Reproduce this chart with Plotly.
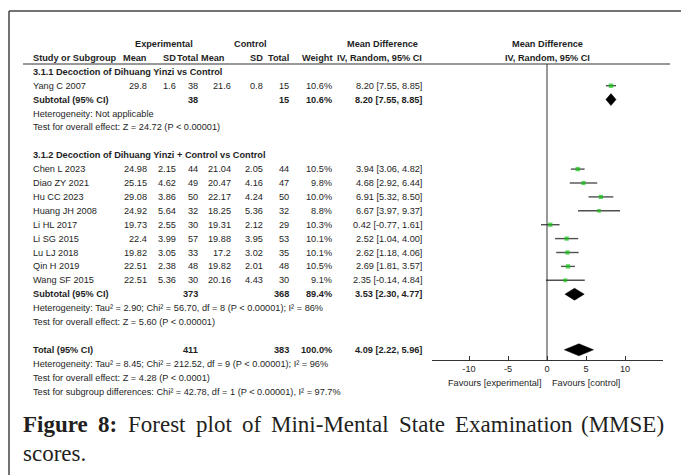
import plotly.graph_objects as go

# ---------------- data ----------------
g1_studies = ["Yang C 2007"]
g1_exp_mean = [29.8]; g1_exp_sd = [1.6]; g1_exp_n = [38]
g1_ctl_mean = [21.6]; g1_ctl_sd = [0.8]; g1_ctl_n = [15]
g1_weight = [10.6]; g1_md = [8.20]; g1_lo = [7.55]; g1_hi = [8.85]

g2_studies = ["Chen L 2023", "Diao ZY 2021", "Hu CC 2023", "Huang JH 2008", "Li HL 2017",
              "Li SG 2015", "Lu LJ 2018", "Qin H 2019", "Wang SF 2015"]
g2_exp_mean = [24.98, 25.15, 29.08, 24.92, 19.73, 22.4, 19.82, 22.51, 22.51]
g2_exp_sd = [2.15, 4.62, 3.86, 5.64, 2.55, 3.99, 3.05, 2.38, 5.36]
g2_exp_n = [44, 49, 50, 32, 30, 57, 33, 48, 30]
g2_ctl_mean = [21.04, 20.47, 22.17, 18.25, 19.31, 19.88, 17.2, 19.82, 20.16]
g2_ctl_sd = [2.05, 4.16, 4.24, 5.36, 2.12, 3.95, 3.02, 2.01, 4.43]
g2_ctl_n = [44, 47, 50, 32, 29, 53, 35, 48, 30]
g2_weight = [10.5, 9.8, 10.0, 8.8, 10.3, 10.1, 10.1, 10.5, 9.1]
g2_md = [3.94, 4.68, 6.91, 6.67, 0.42, 2.52, 2.62, 2.69, 2.35]
g2_lo = [3.06, 2.92, 5.32, 3.97, -0.77, 1.04, 1.18, 1.81, -0.14]
g2_hi = [4.82, 6.44, 8.50, 9.37, 1.61, 4.00, 4.06, 3.57, 4.84]

# pooled rows: label, exp_n, ctl_n, weight, md, lo, hi
pooled_labels = ["Subtotal (95% CI)", "Subtotal (95% CI)", "Total (95% CI)"]
pooled_exp_n = [38, 373, 411]
pooled_ctl_n = [15, 368, 383]
pooled_weight = [10.6, 89.4, 100.0]
pooled_md = [8.20, 3.53, 4.09]
pooled_lo = [7.55, 2.30, 2.22]
pooled_hi = [8.85, 4.77, 5.96]

group_titles = ["3.1.1 Decoction of Dihuang Yinzi vs Control",
                "3.1.2 Decoction of Dihuang Yinzi + Control vs Control"]
g1_notes = ["Heterogeneity: Not applicable",
            "Test for overall effect: Z = 24.72 (P < 0.00001)"]
g2_notes = ["Heterogeneity: Tau² = 2.90; Chi² = 56.70, df = 8 (P < 0.00001); I² = 86%",
            "Test for overall effect: Z = 5.60 (P < 0.00001)"]
total_notes = ["Heterogeneity: Tau² = 8.45; Chi² = 212.52, df = 9 (P < 0.00001); I² = 96%",
               "Test for overall effect: Z = 4.28 (P < 0.0001)",
               "Test for subgroup differences: Chi² = 42.78, df = 1 (P < 0.00001), I² = 97.7%"]

axis_ticks = [-10, -5, 0, 5, 10]
favours_left = "Favours [experimental]"
favours_right = "Favours [control]"
caption_words = ["Figure", "8:", "Forest", "plot", "of", "Mini-Mental", "State",
                 "Examination", "(MMSE)"]
caption_line2 = "scores."

# ---------------- layout helpers ----------------
W, H = 681, 475
ROW0, ROWH = 44.0, 13.9       # pixel y of row 0 and row spacing
X0PX, UNIT = 547.0, 7.8       # pixel x of MD = 0, pixels per unit
AX_L, AX_R, AX_Y = 432, 663, 360

FONT = "Liberation Sans, Arial, sans-serif"
FS = 9.2
TXT = "#1e1e1e"

def px(x):
    return x / W

def py(y):
    return 1 - y / H

annos = []

def txt(s, xpx, row, anchor="right", bold=False, size=FS, color=TXT, font=FONT):
    if bold:
        s = "<b>" + s + "</b>"
    annos.append(dict(text=s, x=px(xpx), y=row, xref="paper", yref="y",
                      xanchor=anchor, yanchor="middle", showarrow=False,
                      borderpad=0, font=dict(family=font, size=size, color=color)))

# column right edges
C_EM, C_ESD, C_EN, C_CM, C_CSD, C_CN, C_W, C_CI = 148, 177, 199, 232, 264, 290, 333, 423
C_NAME = 32

# headers
txt("Experimental", 164, 0, "center", True)
txt("Control", 250, 0, "center", True)
txt("Mean Difference", 382, 0, "center", True)
txt("Mean Difference", X0PX, 0, "center", True)
txt("Study or Subgroup", C_NAME, 1, "left", True)
for s, c in [("Mean", C_EM), ("SD", C_ESD), ("Total", C_EN), ("Mean", C_CM - 6),
             ("SD", C_CSD), ("Total", C_CN), ("Weight", C_W), ("IV, Random, 95% CI", C_CI)]:
    txt(s, c, 1, "right", True)
txt("IV, Random, 95% CI", X0PX, 1, "center", True)

def fmt(v):
    return f"{v:g}"

def ci(m, l, h):
    return f"{m:.2f} [{l:.2f}, {h:.2f}]"

def study_rows(names, em, esd, en, cm, csd, cn, w, md, lo, hi, start):
    rows = []
    for i, n in enumerate(names):
        r = start + i
        rows.append(r)
        txt(n, C_NAME, r, "left")
        txt(fmt(em[i]), C_EM, r); txt(fmt(esd[i]), C_ESD, r); txt(str(en[i]), C_EN, r)
        txt(fmt(cm[i]), C_CM, r); txt(fmt(csd[i]), C_CSD, r); txt(str(cn[i]), C_CN, r)
        txt(f"{w[i]:.1f}%", C_W, r)
        txt(ci(md[i], lo[i], hi[i]), C_CI, r)
    return rows

def pooled_row(k, r):
    txt(pooled_labels[k], C_NAME, r, "left", True)
    txt(str(pooled_exp_n[k]), C_EN, r, "right", True)
    txt(str(pooled_ctl_n[k]), C_CN, r, "right", True)
    txt(f"{pooled_weight[k]:.1f}%", C_W, r, "right", True)
    txt(ci(pooled_md[k], pooled_lo[k], pooled_hi[k]), C_CI, r, "right", True)

# group 1
txt(group_titles[0], C_NAME, 2, "left", True)
rows1 = study_rows(g1_studies, g1_exp_mean, g1_exp_sd, g1_exp_n, g1_ctl_mean, g1_ctl_sd,
                   g1_ctl_n, g1_weight, g1_md, g1_lo, g1_hi, 3)
pooled_row(0, 4)
txt(g1_notes[0], C_NAME, 5, "left")
txt(g1_notes[1], C_NAME, 6, "left")

# group 2
txt(group_titles[1], C_NAME, 8, "left", True)
rows2 = study_rows(g2_studies, g2_exp_mean, g2_exp_sd, g2_exp_n, g2_ctl_mean, g2_ctl_sd,
                   g2_ctl_n, g2_weight, g2_md, g2_lo, g2_hi, 9)
pooled_row(1, 18)
txt(g2_notes[0], C_NAME, 19, "left")
txt(g2_notes[1], C_NAME, 20, "left")

# total
pooled_row(2, 22)
for i, s in enumerate(total_notes):
    txt(s, C_NAME, 23 + i, "left")

# favours labels
fav_row = (383 - ROW0) / ROWH
annos.append(dict(text=favours_left, x=-0.7, y=fav_row, xref="x", yref="y",
                  xanchor="right", yanchor="middle", showarrow=False, borderpad=0,
                  font=dict(family=FONT, size=FS, color=TXT)))
annos.append(dict(text=favours_right, x=0.5, y=fav_row, xref="x", yref="y",
                  xanchor="left", yanchor="middle", showarrow=False, borderpad=0,
                  font=dict(family=FONT, size=FS, color=TXT)))

# caption (justified line 1: word widths from Times metrics)
SERIF = "Liberation Serif, Times New Roman, serif"
CFS = 23
CAP_COL = "#231f20"
times_w = {"Figure": 2.833, "8:": 0.833, "Forest": 2.500, "plot": 1.556, "of": 0.833,
           "Mini-Mental": 5.111, "State": 2.000, "Examination": 5.111, "(MMSE)": 3.611}
CAP_L, CAP_R = 22, 665
widths = [times_w[w_] * CFS for w_ in caption_words]
gap = (CAP_R - CAP_L - sum(widths)) / (len(caption_words) - 1)
xcur = CAP_L
for i, (word, wd) in enumerate(zip(caption_words, widths)):
    t = "<b>" + word + "</b>" if i < 2 else word
    last = i == len(caption_words) - 1
    annos.append(dict(text=t, x=px(CAP_R if last else xcur), y=py(424),
                      xref="paper", yref="paper", xanchor="right" if last else "left",
                      yanchor="middle", showarrow=False, borderpad=0,
                      font=dict(family=SERIF, size=CFS, color=CAP_COL)))
    xcur += wd + gap
annos.append(dict(text=caption_line2, x=px(CAP_L), y=py(453),
                  xref="paper", yref="paper", xanchor="left", yanchor="middle",
                  showarrow=False, borderpad=0,
                  font=dict(family=SERIF, size=CFS, color=CAP_COL)))

# ---------------- traces ----------------
fig = go.Figure()

all_rows = rows1 + rows2
all_md = g1_md + g2_md
all_lo = g1_lo + g2_lo
all_hi = g1_hi + g2_hi
all_w = g1_weight + g2_weight
fig.add_trace(go.Scatter(
    x=all_md, y=all_rows, mode="markers",
    marker=dict(symbol="square", size=[w / 2.4 for w in all_w], color="#12c412",
                line=dict(width=0)),
    error_x=dict(type="data", symmetric=False,
                 array=[h - m for h, m in zip(all_hi, all_md)],
                 arrayminus=[m - l for m, l in zip(all_md, all_lo)],
                 color="#505050", thickness=1.4, width=0),
    hoverinfo="skip", showlegend=False))

half = 0.43
for k, r in zip(range(3), [4, 18, 22]):
    m, l, h = pooled_md[k], pooled_lo[k], pooled_hi[k]
    fig.add_trace(go.Scatter(
        x=[l, m, h, m, l], y=[r, r - half, r, r + half, r],
        mode="lines", fill="toself", fillcolor="black",
        line=dict(color="black", width=0.5), hoverinfo="skip", showlegend=False))

shapes = [
    # frame
    dict(type="line", xref="paper", yref="paper", x0=px(9), x1=1, y0=py(11), y1=py(11),
         line=dict(color="#444", width=1.5)),
    dict(type="line", xref="paper", yref="paper", x0=px(9), x1=px(9), y0=py(11), y1=0,
         line=dict(color="#444", width=1.5)),
    # header underline
    dict(type="line", xref="paper", yref="paper", x0=px(23), x1=px(670), y0=py(64), y1=py(64),
         line=dict(color="#333", width=1)),
    # zero line
    dict(type="line", xref="x", yref="paper", x0=0, x1=0, y0=py(AX_Y), y1=py(64),
         line=dict(color="#333", width=1)),
]

fig.update_layout(
    width=W, height=H, margin=dict(l=0, r=0, t=0, b=0),
    paper_bgcolor="white", plot_bgcolor="rgba(0,0,0,0)",
    showlegend=False, annotations=annos, shapes=shapes,
    xaxis=dict(domain=[px(AX_L), px(AX_R)],
               range=[(AX_L - X0PX) / UNIT, (AX_R - X0PX) / UNIT],
               anchor="free", position=py(AX_Y),
               showline=True, linecolor="#333", linewidth=1,
               ticks="inside", ticklen=4, tickcolor="#333", tickwidth=1,
               tickvals=axis_ticks, ticktext=[str(t) for t in axis_ticks],
               tickfont=dict(family=FONT, size=FS, color=TXT),
               showgrid=False, zeroline=False, fixedrange=True),
    yaxis=dict(domain=[0, 1], range=[(H - ROW0) / ROWH, -ROW0 / ROWH],
               visible=False, fixedrange=True),
)

fig.write_html("out.html")
